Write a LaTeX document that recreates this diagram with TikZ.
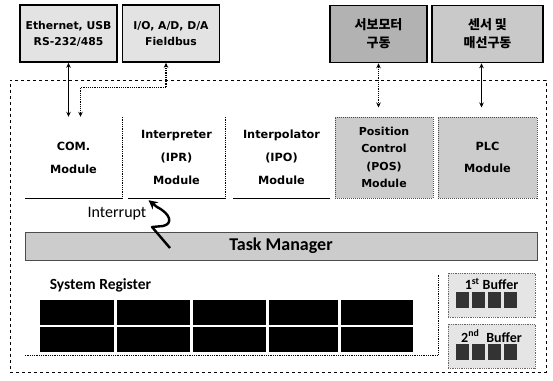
\documentclass[tikz,border=0pt]{standalone}
\usepackage{fontspec}
\setmainfont{Carlito}
\newfontfamily\modfont{DejaVu Sans}
\newfontfamily\krfont{Noto Sans CJK KR}
\usetikzlibrary{arrows.meta}
\begin{document}
\begin{tikzpicture}[x=1pt,y=-1pt,
  topbox/.style={draw, line width=1.6pt, fill=gray!22, minimum width=97pt, minimum height=57pt, inner sep=0pt, align=center, font=\modfont\bfseries\fontsize{10.8}{16}\selectfont},
  krbox/.style={topbox, font=\krfont\bfseries\fontsize{13}{18}\selectfont},
  module/.style={minimum width=97pt, minimum height=81pt, inner sep=0pt, align=center, font=\modfont\bfseries\fontsize{11.3}{23}\selectfont},
  graymod/.style={module, draw=black!70, densely dotted, line width=1pt, fill=gray!40},
  edge/.style={line width=0.8pt},
  dedge/.style={line width=0.8pt, densely dotted},
  link/.style={line width=1.2pt, {Stealth[length=5pt,width=4.5pt]}-{Stealth[length=5pt,width=4.5pt]}},
  dlink/.style={link, densely dotted},
  bufbox/.style={draw=black!60, densely dotted, line width=0.8pt, fill=gray!20, minimum width=87pt, minimum height=44pt, inner sep=0pt},
  buftext/.style={font=\bfseries\fontsize{14}{16}\selectfont, inner sep=0pt}
]
\useasboundingbox (0,0) rectangle (553,380);
% outer system frame
\node[draw, dashed, line width=0.8pt, minimum width=536pt, minimum height=292pt, inner sep=0pt] (sys) at (278,226) {};
% top boxes
\node[topbox] (eth) at (68.5,33.5) {Ethernet, USB\\RS-232/485};
\node[topbox] (io) at (171,33.5) {I/O, A/D, D/A\\Fieldbus};
\node[krbox, fill=gray!60] (servo) at (378.5,34) {서보모터\\구동};
\node[krbox, fill=gray!42, minimum width=111pt] (sensor) at (487.5,34) {센서 및\\매선구동};
% modules
\node[module] (com) at (73.5,157.5) {COM.\\Module};
\node[module] (ipr) at (176.5,157.5) {Interpreter\\(IPR)\\Module};
\node[module] (ipo) at (281.5,157.5) {Interpolator\\(IPO)\\Module};
\node[graymod, minimum width=98pt, font=\modfont\bfseries\fontsize{11}{17.5}\selectfont] (pos) at (384,157.5) {Position\\Control\\(POS)\\Module};
\node[graymod, minimum width=99pt, font=\modfont\bfseries\fontsize{11.3}{22}\selectfont] (plc) at (487.5,157.5) {PLC\\Module};
\draw[dedge] (com.north east) -- (com.south east);
\draw[edge] (com.south west) -- (com.south east);
\draw[dedge] (ipr.north east) -- (ipr.south east);
\draw[edge] (ipr.south west) -- (ipr.south east);
\draw[edge] (ipo.south west) -- (ipo.south east);
% connectors to outside boxes
\draw[link] (eth.south) -- (eth.south |- com.north);
\draw[dlink] ([xshift=-5pt]io.south) -- ++(0,25) -| ([xshift=12pt]eth.south |- com.north);
\draw[dlink] (servo.south) -- ([yshift=9pt]servo.south |- pos.north);
\draw[link] ([xshift=-6pt]sensor.south) -- ([xshift=-6pt,yshift=9pt]sensor.south |- plc.north);
% task manager
\node[draw=black!70, line width=0.8pt, fill=gray!40, minimum width=512pt, minimum height=28pt, inner sep=0pt, font=\bfseries\fontsize{18}{20}\selectfont] (tm) at (281,246) {Task Manager};
% interrupt
\node[font=\fontsize{16}{18}\selectfont, inner sep=0pt] (intr) at (117,214) {Interrupt};
\coordinate (boltstart) at (170,248);
\draw[line width=2.4pt, line join=round, -{Stealth[length=9pt,width=9pt]}] (boltstart) -- (152,227) -- (163,226) .. controls (173,224) and (171,214) .. (157,207) -- ([xshift=-28pt,yshift=-2pt]ipr.south);
% system register
\node[font=\bfseries\fontsize{15.5}{17}\selectfont, inner sep=0pt] (srlabel) at (100.5,285) {System Register};
\node[minimum width=413pt, minimum height=85pt, inner sep=0pt] (reg) at (231.5,312.5) {};
\draw[dedge] (reg.south west) -- (reg.south east) -- ([yshift=-5pt]reg.north east);
\foreach \a/\b in {40/114,117/190,193/266,269/338,341/413} {
  \fill (\a,300) rectangle (\b,325);
  \fill (\a,327) rectangle (\b,352);
}
% buffers
\node[bufbox] (buf1) at (491.5,295) {};
\node[buftext] (buf1t) at (491.5,284) {1\textsuperscript{st} Buffer};
\foreach \a in {456,472,488,504} \fill[black!80] (\a,292) rectangle +(13,16);
\node[bufbox] (buf2) at (491.5,346) {};
\node[buftext] (buf2t) at (491.5,336) {2\textsuperscript{nd}\hspace{7pt}Buffer};
\foreach \a in {456,472,488,504} \fill[black!80] (\a,344) rectangle +(13,16);
\end{tikzpicture}
\end{document}
